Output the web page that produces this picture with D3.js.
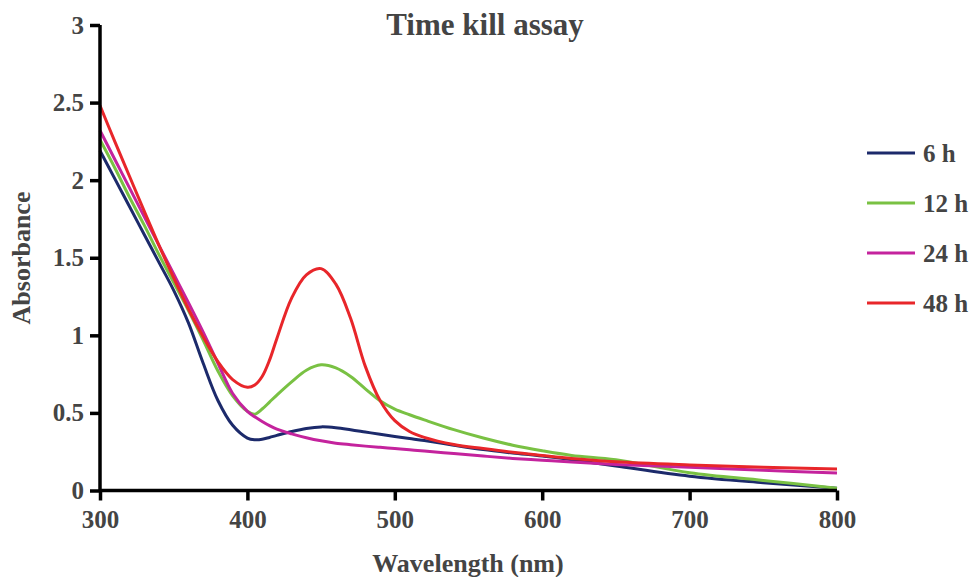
<!DOCTYPE html>
<html>
<head>
<meta charset="utf-8">
<script src="https://cdn.jsdelivr.net/npm/d3@7"></script>
<style>
  html, body { margin: 0; padding: 0; background: #fff; }
  svg text { font-family: "Liberation Serif", "Times New Roman", serif; font-weight: bold; fill: #444; }
</style>
</head>
<body>
<svg id="chart" width="973" height="577"></svg>
<script>
// ---- data ----
const wavelengths = [300,310,320,330,340,350,360,370,380,390,400,405,410,415,420,430,440,450,460,470,480,490,500,510,520,540,560,580,600,620,650,700,750,800];
const series6h  = [2.19,2.01,1.83,1.65,1.47,1.29,1.08,0.82,0.58,0.42,0.338,0.327,0.33,0.342,0.355,0.380,0.400,0.410,0.405,0.392,0.377,0.362,0.348,0.335,0.322,0.292,0.264,0.242,0.222,0.198,0.158,0.092,0.050,0.015];
const series12h = [2.26,2.08,1.89,1.71,1.52,1.34,1.16,0.97,0.77,0.61,0.51,0.492,0.525,0.57,0.615,0.70,0.775,0.81,0.79,0.735,0.655,0.578,0.524,0.488,0.455,0.392,0.338,0.292,0.256,0.226,0.198,0.115,0.065,0.015];
const series24h = [2.32,2.135,1.95,1.765,1.58,1.395,1.21,1.02,0.82,0.625,0.51,0.475,0.445,0.418,0.395,0.365,0.340,0.320,0.305,0.295,0.286,0.278,0.270,0.262,0.255,0.238,0.222,0.207,0.195,0.183,0.168,0.150,0.130,0.112];
const series48h = [2.48,2.25,2.025,1.80,1.58,1.37,1.17,0.99,0.83,0.715,0.665,0.68,0.735,0.84,0.98,1.24,1.39,1.43,1.33,1.11,0.80,0.58,0.45,0.38,0.342,0.296,0.270,0.246,0.226,0.207,0.185,0.165,0.150,0.138];
const seriesNames = ["6 h","12 h","24 h","48 h"];
const seriesColors = ["#1c2a6b","#79c143","#c4239d","#e8262a"];
const xTicks = [300,400,500,600,700,800];
const yTicks = [0,0.5,1,1.5,2,2.5,3];
const yTickLabels = ["0","0.5","1","1.5","2","2.5","3"];
const titleText = "Time kill assay";
const xLabel = "Wavelength (nm)";
const yLabel = "Absorbance";

const allSeries = [series6h, series12h, series24h, series48h];

// ---- chart ----
const svg = d3.select("#chart");
const x = d3.scaleLinear().domain([300, 800]).range([100, 837]);
const y = d3.scaleLinear().domain([0, 3]).range([490.5, 25]);

// title
svg.append("text").attr("x", 485).attr("y", 35).attr("text-anchor", "middle")
  .style("font-size", "31px").text(titleText);

// lines
const line = d3.line().x(d => x(d[0])).y(d => y(d[1])).curve(d3.curveCatmullRom.alpha(0.5));
allSeries.forEach((s, i) => {
  svg.append("path")
    .datum(wavelengths.map((w, j) => [w, s[j]]))
    .attr("fill", "none")
    .attr("stroke", seriesColors[i])
    .attr("stroke-width", 3)
    .attr("stroke-linejoin", "round")
    .attr("d", line);
});

// axes
const xAxis = svg.append("g").attr("transform", `translate(0,${y(0)})`)
  .call(d3.axisBottom(x).tickValues(xTicks).tickSize(10).tickPadding(10).tickFormat(d3.format("d")));
const yAxis = svg.append("g").attr("transform", `translate(${x(300)},0)`)
  .call(d3.axisLeft(y).tickValues(yTicks).tickSize(10).tickPadding(6).tickFormat((d, i) => yTickLabels[i]));
[xAxis, yAxis].forEach(g => {
  g.select(".domain").attr("stroke", "#000").attr("stroke-width", 3.5);
  g.selectAll(".tick line").attr("stroke", "#000").attr("stroke-width", 3.5);
  g.selectAll(".tick text").style("font-size", "25px").style("font-family", "Liberation Serif, serif").attr("fill", "#444");
});
xAxis.select(".domain").attr("d", `M${x(300)},0H${x(800)}`);
yAxis.select(".domain").attr("d", `M0,${y(3)}V${y(0)}`);

// axis labels
svg.append("text").attr("x", 468).attr("y", 572).attr("text-anchor", "middle")
  .style("font-size", "26px").text(xLabel);
svg.append("text").attr("transform", "translate(30,258) rotate(-90)").attr("text-anchor", "middle")
  .style("font-size", "26px").text(yLabel);

// legend
const legend = svg.append("g");
seriesNames.forEach((name, i) => {
  const ly = 153 + i * 50;
  legend.append("line").attr("x1", 867).attr("x2", 915).attr("y1", ly).attr("y2", ly)
    .attr("stroke", seriesColors[i]).attr("stroke-width", 3);
  legend.append("text").attr("x", 923).attr("y", ly).attr("dy", "0.35em")
    .style("font-size", "25px").text(name);
});
</script>
</body>
</html>
